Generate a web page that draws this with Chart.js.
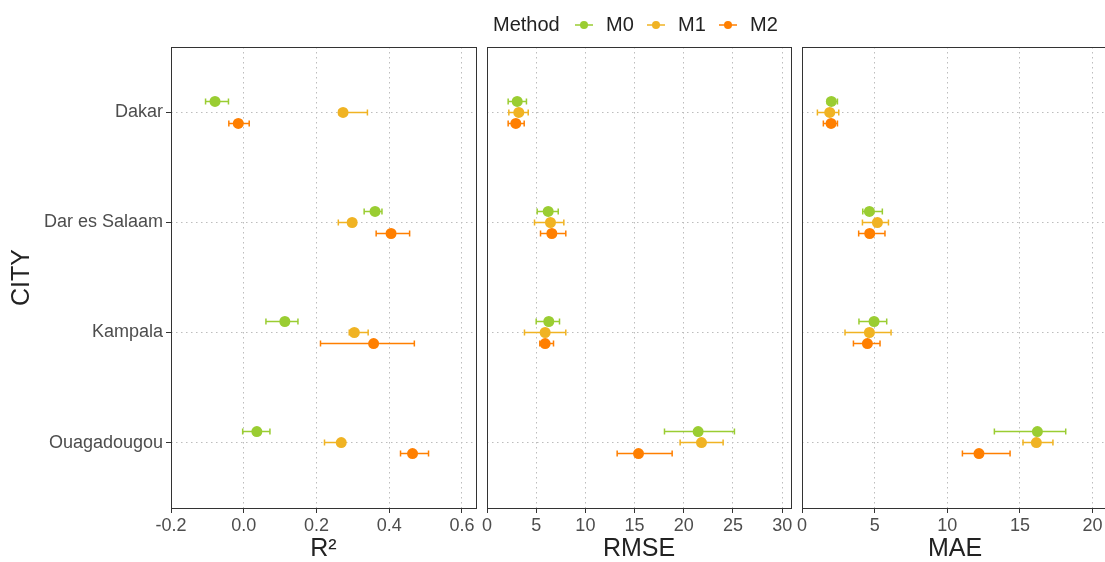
<!DOCTYPE html>
<html>
<head>
<meta charset="utf-8">
<script src="https://cdn.jsdelivr.net/npm/chart.js@4.4.0/dist/chart.umd.min.js"></script>
<style>
  html, body { margin: 0; padding: 0; background: #fff; overflow: hidden; }
  canvas { position: absolute; left: 0; top: 0; }
</style>
</head>
<body>
<canvas id="r2Chart" width="1105" height="562"></canvas>
<canvas id="rmseChart" width="1105" height="562"></canvas>
<canvas id="maeChart" width="1115" height="562"></canvas>
<script>
const cities = ["Dakar", "Dar es Salaam", "Kampala", "Ouagadougou"];
const methods = ["M0", "M1", "M2"];
const methodColors = ["#9acd32", "#f0b323", "#ff7f00"];

// R2 (rows: M0, M1, M2; cols: cities)
const r2Mid = [[-0.079, 0.361, 0.113, 0.036], [0.273, 0.298, 0.304, 0.268], [-0.015, 0.405, 0.357, 0.464]];
const r2Low = [[-0.105, 0.331, 0.061, -0.003], [0.262, 0.260, 0.290, 0.222], [-0.041, 0.364, 0.211, 0.431]];
const r2High = [[-0.042, 0.380, 0.149, 0.072], [0.340, 0.305, 0.342, 0.275], [0.015, 0.456, 0.469, 0.508]];

// RMSE
const rmseMid = [[3.07, 6.22, 6.28, 21.46], [3.23, 6.45, 5.91, 21.80], [2.93, 6.59, 5.91, 15.40]];
const rmseLow = [[2.15, 5.10, 5.00, 18.04], [2.22, 4.83, 3.81, 19.63], [2.15, 5.44, 5.37, 13.23]];
const rmseHigh = [[4.01, 7.24, 7.37, 25.15], [4.19, 7.81, 8.01, 24.00], [3.78, 8.01, 6.76, 18.82]];

// MAE
const maeMid = [[2.02, 4.64, 4.96, 16.20], [1.91, 5.19, 4.64, 16.13], [2.00, 4.66, 4.50, 12.18]];
const maeLow = [[1.75, 4.18, 3.92, 13.24], [1.06, 4.16, 2.96, 15.21], [1.47, 3.90, 3.54, 11.04]];
const maeHigh = [[2.44, 5.53, 5.83, 18.15], [2.53, 5.95, 6.13, 17.27], [2.44, 5.71, 5.37, 14.32]];

const r2Ticks = [-0.2, 0.0, 0.2, 0.4, 0.6];
const rmseTicks = [0, 5, 10, 15, 20, 25, 30];
const maeTicks = [0, 5, 10, 15, 20];

const FONT = "'Liberation Sans', Arial, sans-serif";
const dodge = 0.1;

// horizontal error bars, drawn under the points
const errorBars = {
  id: "errorBars",
  beforeDatasetsDraw(chart) {
    const ctx = chart.ctx;
    const xs = chart.scales.x;
    chart.data.datasets.forEach((ds, di) => {
      const meta = chart.getDatasetMeta(di);
      ctx.save();
      ctx.strokeStyle = ds.backgroundColor;
      ctx.lineWidth = 1.5;
      meta.data.forEach((pt, i) => {
        const d = ds.data[i];
        const x1 = xs.getPixelForValue(d.lo);
        const x2 = xs.getPixelForValue(d.hi);
        const y = pt.y;
        ctx.beginPath();
        ctx.moveTo(x1, y); ctx.lineTo(x2, y);
        ctx.moveTo(x1, y - 3); ctx.lineTo(x1, y + 3);
        ctx.moveTo(x2, y - 3); ctx.lineTo(x2, y + 3);
        ctx.stroke();
      });
      ctx.restore();
    });
  },
};

// panel frame
const frame = {
  id: "frame",
  beforeDatasetsDraw(chart) {
    const a = chart.chartArea;
    const ctx = chart.ctx;
    ctx.save();
    ctx.strokeStyle = "#333333";
    ctx.lineWidth = 1;
    ctx.strokeRect(Math.round(a.left) + 0.5, Math.round(a.top) + 0.5, Math.round(a.right - a.left), Math.round(a.bottom - a.top));
    ctx.restore();
  },
};

// top legend: Method  -o- M0  -o- M1  -o- M2
const methodLegend = {
  id: "methodLegend",
  afterDraw(chart) {
    const ctx = chart.ctx;
    const y = 25;
    ctx.save();
    ctx.font = "20px " + FONT;
    ctx.fillStyle = "#222222";
    ctx.textBaseline = "middle";
    ctx.fillText("Method", 493, y);
    const keyX = [575, 647, 719];
    methods.forEach((m, i) => {
      ctx.strokeStyle = methodColors[i];
      ctx.fillStyle = methodColors[i];
      ctx.lineWidth = 1.5;
      ctx.beginPath();
      ctx.moveTo(keyX[i], y); ctx.lineTo(keyX[i] + 18, y);
      ctx.stroke();
      ctx.beginPath();
      ctx.arc(keyX[i] + 9, y, 4, 0, Math.PI * 2);
      ctx.fill();
      ctx.fillStyle = "#222222";
      ctx.fillText(m, keyX[i] + 31, y);
    });
    ctx.restore();
  },
};

function buildDatasets(mid, low, high) {
  return methods.map((m, k) => ({
    label: m,
    data: cities.map((c, i) => ({ x: mid[k][i], y: i + 1 + (k - 1) * dodge, lo: low[k][i], hi: high[k][i] })),
    backgroundColor: methodColors[k],
    borderWidth: 0,
    pointRadius: 5.5,
    pointHoverRadius: 5.5,
  }));
}

const gridStyle = {
  color: "#bdbdbd",
  lineWidth: 1,
  tickColor: "#333333",
  tickBorderDash: [],
  tickLength: 5,
  tickWidth: 1,
};
const gridBorder = { display: false, dash: [1.5, 3.5] };

function makePanel(id, opts) {
  const ctx = document.getElementById(id).getContext("2d");
  return new Chart(ctx, {
    type: "scatter",
    data: { datasets: buildDatasets(opts.mid, opts.low, opts.high) },
    options: {
      responsive: false,
      animation: false,
      events: [],
      layout: { padding: { left: opts.left, right: opts.right, top: 47, bottom: 0 } },
      plugins: { legend: { display: false }, tooltip: { enabled: false } },
      scales: {
        x: {
          type: "linear",
          min: opts.min,
          max: opts.max,
          afterBuildTicks: (s) => { s.ticks = opts.ticks.map((v) => ({ value: v })); },
          afterFit: (s) => { s.height = 54; },
          border: gridBorder,
          grid: gridStyle,
          ticks: {
            color: "#4d4d4d",
            font: { family: FONT, size: 18 },
            padding: 2,
            maxRotation: 0,
            autoSkip: false,
            callback: opts.fmt,
          },
          title: {
            display: true,
            text: opts.title,
            color: "#222222",
            font: { family: FONT, size: 25, lineHeight: 1 },
            padding: { top: 0, bottom: 0 },
          },
        },
        y: {
          type: "linear",
          reverse: true,
          min: 0.405,
          max: 4.595,
          afterBuildTicks: (s) => { s.ticks = cities.map((c, i) => ({ value: i + 1 })); },
          afterFit: (s) => { s.width = opts.showY ? 171 : 0; },
          border: gridBorder,
          grid: Object.assign({}, gridStyle, { drawTicks: opts.showY }),
          ticks: {
            display: opts.showY,
            color: "#4d4d4d",
            font: { family: FONT, size: 18 },
            padding: 3,
            autoSkip: false,
            callback: (v) => cities[Math.round(v) - 1],
          },
          title: {
            display: opts.showY,
            text: "CITY",
            color: "#222222",
            font: { family: FONT, size: 25, lineHeight: 1 },
            padding: { top: 10, bottom: 0 },
          },
        },
      },
    },
    plugins: opts.plugins,
  });
}

// R2 panel
makePanel("r2Chart", {
  mid: r2Mid, low: r2Low, high: r2High,
  min: -0.2, max: 0.6385, ticks: r2Ticks,
  fmt: (v) => v.toFixed(1),
  title: "R\u00B2",
  left: 0, right: 1105 - 476, showY: true,
  plugins: [frame, errorBars],
});

// RMSE panel
makePanel("rmseChart", {
  mid: rmseMid, low: rmseLow, high: rmseHigh,
  min: 0, max: 30.9, ticks: rmseTicks,
  fmt: (v) => String(v),
  title: "RMSE",
  left: 487, right: 1105 - 791, showY: false,
  plugins: [frame, errorBars, methodLegend],
});

// MAE panel (right edge runs past the window)
makePanel("maeChart", {
  mid: maeMid, low: maeLow, high: maeHigh,
  min: 0, max: 21.06, ticks: maeTicks,
  fmt: (v) => String(v),
  title: "MAE",
  left: 802, right: 1115 - 1108, showY: false,
  plugins: [frame, errorBars],
});
</script>
</body>
</html>
